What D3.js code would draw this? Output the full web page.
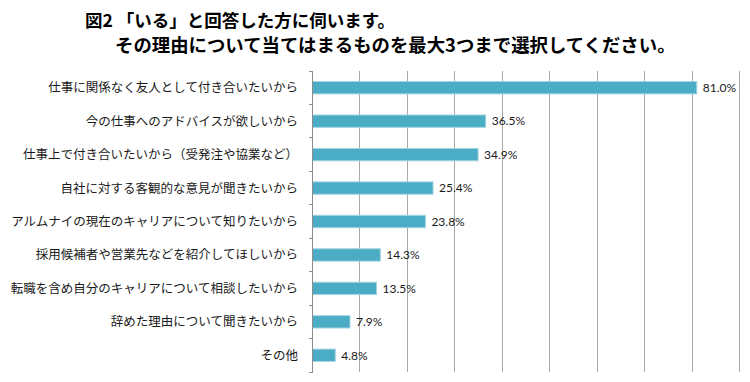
<!DOCTYPE html>
<html><head><meta charset="utf-8">
<script src="https://cdn.jsdelivr.net/npm/d3@7"></script>
<style>body{margin:0;background:#fff}</style>
</head><body>
<svg id="c" width="750" height="382"></svg>
<script>
const categories = [
  "仕事に関係なく友人として付き合いたいから",
  "今の仕事へのアドバイスが欲しいから",
  "仕事上で付き合いたいから（受発注や協業など）",
  "自社に対する客観的な意見が聞きたいから",
  "アルムナイの現在のキャリアについて知りたいから",
  "採用候補者や営業先などを紹介してほしいから",
  "転職を含め自分のキャリアについて相談したいから",
  "辞めた理由について聞きたいから",
  "その他"
];
const values = [81.0, 36.5, 34.9, 25.4, 23.8, 14.3, 13.5, 7.9, 4.8];
const ticks = [0, 10, 20, 30, 40, 50, 60, 70, 80, 90];
const titleLines = ["図2 「いる」と回答した方に伺います。", "その理由について当てはまるものを最大3つまで選択してください。"];

(function(){
const svg = d3.select("#c");
const pLeft = 312.5, pRight = 739.5, pTop = 71, pBottom = 372;
const x = d3.scaleLinear().domain([0, 90]).range([pLeft, pRight]);
const y = d3.scaleBand().domain(categories).range([pTop, pBottom]).paddingInner(0.63).paddingOuter(0.315);

// title
svg.append("text").attr("x", 85).attr("y", 27).text(titleLines[0])
  .attr("font-family", "Noto Sans CJK JP").attr("font-weight", "bold").attr("font-size", 17.5).attr("fill", "#000");
svg.append("text").attr("x", 115).attr("y", 52).text(titleLines[1])
  .attr("font-family", "Noto Sans CJK JP").attr("font-weight", "bold").attr("font-size", 18.4).attr("fill", "#000");

// gridlines
svg.append("g").selectAll("line").data(ticks.slice(1)).join("line")
  .attr("x1", d => x(d)).attr("x2", d => x(d)).attr("y1", pTop).attr("y2", pBottom)
  .attr("stroke", "#a9a9a9").attr("stroke-width", 1).attr("shape-rendering", "crispEdges");

// bars
svg.append("g").selectAll("rect").data(values).join("rect")
  .attr("x", x(0)).attr("y", (d, i) => y(categories[i]))
  .attr("width", d => x(d) - x(0)).attr("height", y.bandwidth())
  .attr("fill", "#4bacc6").attr("stroke", "#a5d5e2").attr("stroke-width", 1);

// y axis
const band = (pBottom - pTop) / categories.length;
const yAxisG = svg.append("g");
yAxisG.append("line").attr("x1", pLeft).attr("x2", pLeft).attr("y1", pTop).attr("y2", pBottom)
  .attr("stroke", "#8c8c8c").attr("shape-rendering", "crispEdges");
yAxisG.selectAll("line.t").data(d3.range(categories.length + 1)).join("line").attr("class", "t")
  .attr("x1", pLeft - 4).attr("x2", pLeft).attr("y1", i => pTop + i * band).attr("y2", i => pTop + i * band)
  .attr("stroke", "#8c8c8c").attr("shape-rendering", "crispEdges");

// category labels
svg.append("g").selectAll("text").data(categories).join("text")
  .attr("x", 298).attr("y", d => y(d) + y.bandwidth() / 2).attr("dy", "0.36em")
  .attr("text-anchor", "end").attr("font-family", "Noto Sans CJK JP").attr("font-size", 12.5)
  .attr("fill", "#1a1a1a").text(d => d);

// value labels
svg.append("g").selectAll("text").data(values).join("text")
  .attr("x", d => x(d) + 6).attr("y", (d, i) => y(categories[i]) + y.bandwidth() / 2).attr("dy", "0.36em")
  .attr("font-family", "Lato").attr("font-size", 12).attr("fill", "#1a1a1a")
  .text(d => d.toFixed(1) + "%");
})();
</script>
</body></html>
